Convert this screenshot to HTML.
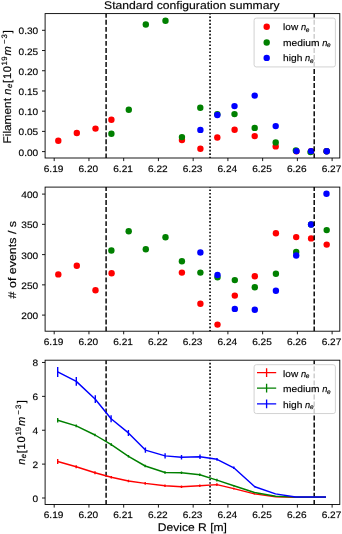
<!DOCTYPE html>
<html><head><meta charset="utf-8"><title>Standard configuration summary</title>
<style>html,body{margin:0;padding:0;background:#fff;width:342px;height:534px;overflow:hidden}svg{display:block;will-change:transform;filter:blur(0.3px)}text{font-family:"Liberation Sans",sans-serif;text-rendering:geometricPrecision;stroke:#000;stroke-width:0.3px;stroke-opacity:0.5}</style>
</head><body>
<svg width="342" height="534" viewBox="0 0 342 534">
<rect width="342" height="534" fill="#fff"/>
<g font-family="Liberation Sans, sans-serif">
<clipPath id="c0"><rect x="45.1" y="13.6" width="294.7" height="144.4"/></clipPath>
<clipPath id="c1"><rect x="45.1" y="187.1" width="294.7" height="144.1"/></clipPath>
<clipPath id="c2"><rect x="45.1" y="360.2" width="294.7" height="144.3"/></clipPath>
<g clip-path="url(#c0)">
<circle cx="58.3" cy="140.8" r="3.2" fill="#ff0000"/>
<circle cx="76.8" cy="133" r="3.2" fill="#ff0000"/>
<circle cx="95.5" cy="128.6" r="3.2" fill="#ff0000"/>
<circle cx="111.4" cy="119.7" r="3.2" fill="#ff0000"/>
<circle cx="181.95" cy="140.1" r="3.2" fill="#ff0000"/>
<circle cx="200.4" cy="148.8" r="3.2" fill="#ff0000"/>
<circle cx="217.3" cy="137.5" r="3.2" fill="#ff0000"/>
<circle cx="234.6" cy="129.8" r="3.2" fill="#ff0000"/>
<circle cx="254.7" cy="136.1" r="3.2" fill="#ff0000"/>
<circle cx="275.7" cy="146.4" r="3.2" fill="#ff0000"/>
<circle cx="296.4" cy="151.2" r="3.2" fill="#ff0000"/>
<circle cx="311.1" cy="151.3" r="3.2" fill="#ff0000"/>
<circle cx="326.6" cy="151.3" r="3.2" fill="#ff0000"/>
<circle cx="111.4" cy="133.8" r="3.2" fill="#008000"/>
<circle cx="128.8" cy="109.7" r="3.2" fill="#008000"/>
<circle cx="145.8" cy="24.5" r="3.2" fill="#008000"/>
<circle cx="165.5" cy="20.8" r="3.2" fill="#008000"/>
<circle cx="181.95" cy="137.1" r="3.2" fill="#008000"/>
<circle cx="200.3" cy="107.8" r="3.2" fill="#008000"/>
<circle cx="217.3" cy="114.2" r="3.2" fill="#008000"/>
<circle cx="234.5" cy="114.1" r="3.2" fill="#008000"/>
<circle cx="254.7" cy="127.9" r="3.2" fill="#008000"/>
<circle cx="275.7" cy="142.4" r="3.2" fill="#008000"/>
<circle cx="295.9" cy="150.5" r="3.2" fill="#008000"/>
<circle cx="310.5" cy="152.1" r="3.2" fill="#008000"/>
<circle cx="326.6" cy="151.3" r="3.2" fill="#008000"/>
<circle cx="200.4" cy="129.9" r="3.2" fill="#0000ff"/>
<circle cx="217.35" cy="114.95" r="3.2" fill="#0000ff"/>
<circle cx="234.5" cy="106.1" r="3.2" fill="#0000ff"/>
<circle cx="254.7" cy="95.6" r="3.2" fill="#0000ff"/>
<circle cx="275.7" cy="126.1" r="3.2" fill="#0000ff"/>
<circle cx="296.5" cy="151.1" r="3.2" fill="#0000ff"/>
<circle cx="311.1" cy="151.1" r="3.2" fill="#0000ff"/>
<circle cx="326.7" cy="151.3" r="3.2" fill="#0000ff"/>
<line x1="106.1" y1="158.3" x2="106.1" y2="13.6" stroke="#000" stroke-width="1.45" stroke-dasharray="4.906 2.122"/>
<line x1="210.05" y1="158.45" x2="210.05" y2="13.6" stroke="#000" stroke-width="1.6" stroke-dasharray="1.6 1.914"/>
<line x1="314.2" y1="158.3" x2="314.2" y2="13.6" stroke="#000" stroke-width="1.45" stroke-dasharray="4.906 2.122"/>
</g>
<g clip-path="url(#c1)">
<circle cx="58.3" cy="274.4" r="3.2" fill="#ff0000"/>
<circle cx="76.8" cy="265.7" r="3.2" fill="#ff0000"/>
<circle cx="95.5" cy="290.3" r="3.2" fill="#ff0000"/>
<circle cx="111.6" cy="273.2" r="3.2" fill="#ff0000"/>
<circle cx="181.9" cy="272.6" r="3.2" fill="#ff0000"/>
<circle cx="200.4" cy="303.8" r="3.2" fill="#ff0000"/>
<circle cx="217.5" cy="324.6" r="3.2" fill="#ff0000"/>
<circle cx="234.8" cy="295.6" r="3.2" fill="#ff0000"/>
<circle cx="254.8" cy="276.2" r="3.2" fill="#ff0000"/>
<circle cx="275.9" cy="233.2" r="3.2" fill="#ff0000"/>
<circle cx="296.2" cy="237.1" r="3.2" fill="#ff0000"/>
<circle cx="311.1" cy="238.4" r="3.2" fill="#ff0000"/>
<circle cx="326.7" cy="244.6" r="3.2" fill="#ff0000"/>
<circle cx="111.4" cy="250.5" r="3.2" fill="#008000"/>
<circle cx="128.7" cy="231.3" r="3.2" fill="#008000"/>
<circle cx="145.8" cy="249.3" r="3.2" fill="#008000"/>
<circle cx="165.5" cy="237.2" r="3.2" fill="#008000"/>
<circle cx="181.9" cy="261.2" r="3.2" fill="#008000"/>
<circle cx="200.4" cy="272.6" r="3.2" fill="#008000"/>
<circle cx="217.5" cy="277.3" r="3.2" fill="#008000"/>
<circle cx="234.8" cy="280.1" r="3.2" fill="#008000"/>
<circle cx="254.8" cy="287.3" r="3.2" fill="#008000"/>
<circle cx="275.9" cy="273.8" r="3.2" fill="#008000"/>
<circle cx="296.2" cy="252" r="3.2" fill="#008000"/>
<circle cx="311.1" cy="224.5" r="3.2" fill="#008000"/>
<circle cx="326.7" cy="230.1" r="3.2" fill="#008000"/>
<circle cx="200.4" cy="252.5" r="3.2" fill="#0000ff"/>
<circle cx="217.5" cy="275" r="3.2" fill="#0000ff"/>
<circle cx="234.8" cy="308.9" r="3.2" fill="#0000ff"/>
<circle cx="254.8" cy="309.8" r="3.2" fill="#0000ff"/>
<circle cx="275.9" cy="290.8" r="3.2" fill="#0000ff"/>
<circle cx="296.2" cy="255.5" r="3.2" fill="#0000ff"/>
<circle cx="311.1" cy="224.5" r="3.2" fill="#0000ff"/>
<circle cx="326.5" cy="193.7" r="3.2" fill="#0000ff"/>
<line x1="106.1" y1="331.5" x2="106.1" y2="187.1" stroke="#000" stroke-width="1.45" stroke-dasharray="4.906 2.122"/>
<line x1="210.05" y1="331.65" x2="210.05" y2="187.1" stroke="#000" stroke-width="1.6" stroke-dasharray="1.6 1.914"/>
<line x1="314.2" y1="331.5" x2="314.2" y2="187.1" stroke="#000" stroke-width="1.45" stroke-dasharray="4.906 2.122"/>
</g>
<g clip-path="url(#c2)">
<line x1="106.1" y1="504.8" x2="106.1" y2="360.2" stroke="#000" stroke-width="1.45" stroke-dasharray="4.906 2.122"/>
<line x1="210.05" y1="504.95" x2="210.05" y2="360.2" stroke="#000" stroke-width="1.6" stroke-dasharray="1.6 1.914"/>
<line x1="314.2" y1="504.8" x2="314.2" y2="360.2" stroke="#000" stroke-width="1.45" stroke-dasharray="4.906 2.122"/>
<path d="M57.7 461.5 L76.2 466.7 L95 472.7 L111.3 477.3 L128.5 481 L145.2 483.4 L165 485.8 L181.5 486.7 L199.8 485.7 L216.9 484.6 L233.8 488.6 L254.5 493.9 L275.6 496.7 L296 497.2 L311 497.2 L326 497.2" fill="none" stroke="#ff0000" stroke-width="1.45" stroke-linejoin="round" stroke-linecap="butt"/>
<path d="M57.7 459.1V463.9 M76.2 465.2V468.2 M95 471.2V474.2 M111.3 476.1V478.5 M128.5 479.7V482.3 M145.2 482.1V484.7 M165 484.5V487.1 M181.5 485.4V488 M199.8 484.4V487 M216.9 483.3V485.9 M233.8 487.8V489.4 M254.5 493.4V494.4" stroke="#ff0000" stroke-width="1.4" fill="none"/>
<path d="M57.7 420.2 L76.2 425.9 L95 435 L111.3 444.6 L128.5 456.3 L145.2 466 L165 472.5 L181.5 472.7 L199.8 474.8 L216.9 480.1 L233.8 485.8 L254.5 492.5 L275.6 496.2 L296 497.1 L311 497.1 L326 497.1" fill="none" stroke="#008000" stroke-width="1.45" stroke-linejoin="round" stroke-linecap="butt"/>
<path d="M57.7 418V422.4 M76.2 424.6V427.2 M95 433.7V436.3 M111.3 443.3V445.9 M128.5 455V457.6 M145.2 464.7V467.3 M165 471.2V473.8 M181.5 471.4V474 M199.8 473.5V476.1 M216.9 478.8V481.4 M233.8 485V486.6 M254.5 492V493" stroke="#008000" stroke-width="1.4" fill="none"/>
<path d="M57.7 371.9 L76.3 381.4 L95.3 399.2 L111.1 418.7 L128.4 432.9 L145.4 450.1 L165.1 455.9 L181.5 457.3 L200 456.8 L217 459.3 L233.8 467.8 L254.8 486.8 L275.5 493.9 L295.6 497 L311 497 L326 497" fill="none" stroke="#0000ff" stroke-width="1.45" stroke-linejoin="round" stroke-linecap="butt"/>
<path d="M57.7 366.9V376.9 M76.3 377V385.8 M95.3 395.3V403.1 M111.1 415.2V422.2 M128.4 429.9V435.9 M145.4 447.5V452.7 M165.1 453.2V458.6 M181.5 455V459.6 M200 454.5V459.1 M217 457.9V460.7 M233.8 466.5V469.1 M254.8 486.3V487.3" stroke="#0000ff" stroke-width="1.4" fill="none"/>
</g>
<rect x="45.1" y="13.6" width="294.7" height="144.4" fill="none" stroke="#000" stroke-width="0.9"/>
<path d="M54.2 158.0v3.1 M88.94 158.0v3.1 M123.68 158.0v3.1 M158.42 158.0v3.1 M193.16 158.0v3.1 M227.9 158.0v3.1 M262.64 158.0v3.1 M297.38 158.0v3.1 M332.12 158.0v3.1 M45.1 151.6h-3.1 M45.1 131.38h-3.1 M45.1 111.17h-3.1 M45.1 90.95h-3.1 M45.1 70.74h-3.1 M45.1 50.52h-3.1 M45.1 30.31h-3.1" stroke="#000" stroke-width="0.9" fill="none"/>
<text x="53.6" y="171.8" font-size="9.29" text-anchor="middle" textLength="19.69" lengthAdjust="spacingAndGlyphs">6.19</text>
<text x="88.34" y="171.8" font-size="9.29" text-anchor="middle" textLength="19.69" lengthAdjust="spacingAndGlyphs">6.20</text>
<text x="123.08" y="171.8" font-size="9.29" text-anchor="middle" textLength="19.69" lengthAdjust="spacingAndGlyphs">6.21</text>
<text x="157.82" y="171.8" font-size="9.29" text-anchor="middle" textLength="19.69" lengthAdjust="spacingAndGlyphs">6.22</text>
<text x="192.56" y="171.8" font-size="9.29" text-anchor="middle" textLength="19.69" lengthAdjust="spacingAndGlyphs">6.23</text>
<text x="227.3" y="171.8" font-size="9.29" text-anchor="middle" textLength="19.69" lengthAdjust="spacingAndGlyphs">6.24</text>
<text x="262.04" y="171.8" font-size="9.29" text-anchor="middle" textLength="19.69" lengthAdjust="spacingAndGlyphs">6.25</text>
<text x="296.78" y="171.8" font-size="9.29" text-anchor="middle" textLength="19.69" lengthAdjust="spacingAndGlyphs">6.26</text>
<text x="331.52" y="171.8" font-size="9.29" text-anchor="middle" textLength="19.69" lengthAdjust="spacingAndGlyphs">6.27</text>
<text x="38.21" y="155.6" font-size="9.29" text-anchor="end" textLength="19.69" lengthAdjust="spacingAndGlyphs">0.00</text>
<text x="38.21" y="135.38" font-size="9.29" text-anchor="end" textLength="19.69" lengthAdjust="spacingAndGlyphs">0.05</text>
<text x="38.21" y="115.17" font-size="9.29" text-anchor="end" textLength="19.69" lengthAdjust="spacingAndGlyphs">0.10</text>
<text x="38.21" y="94.95" font-size="9.29" text-anchor="end" textLength="19.69" lengthAdjust="spacingAndGlyphs">0.15</text>
<text x="38.21" y="74.74" font-size="9.29" text-anchor="end" textLength="19.69" lengthAdjust="spacingAndGlyphs">0.20</text>
<text x="38.21" y="54.52" font-size="9.29" text-anchor="end" textLength="19.69" lengthAdjust="spacingAndGlyphs">0.25</text>
<text x="38.21" y="34.31" font-size="9.29" text-anchor="end" textLength="19.69" lengthAdjust="spacingAndGlyphs">0.30</text>
<rect x="45.1" y="187.1" width="294.7" height="144.1" fill="none" stroke="#000" stroke-width="0.9"/>
<path d="M54.2 331.2v3.1 M88.94 331.2v3.1 M123.68 331.2v3.1 M158.42 331.2v3.1 M193.16 331.2v3.1 M227.9 331.2v3.1 M262.64 331.2v3.1 M297.38 331.2v3.1 M332.12 331.2v3.1 M45.1 315.1h-3.1 M45.1 284.85h-3.1 M45.1 254.6h-3.1 M45.1 224.35h-3.1 M45.1 194.1h-3.1" stroke="#000" stroke-width="0.9" fill="none"/>
<text x="53.6" y="344.5" font-size="9.29" text-anchor="middle" textLength="19.69" lengthAdjust="spacingAndGlyphs">6.19</text>
<text x="88.34" y="344.5" font-size="9.29" text-anchor="middle" textLength="19.69" lengthAdjust="spacingAndGlyphs">6.20</text>
<text x="123.08" y="344.5" font-size="9.29" text-anchor="middle" textLength="19.69" lengthAdjust="spacingAndGlyphs">6.21</text>
<text x="157.82" y="344.5" font-size="9.29" text-anchor="middle" textLength="19.69" lengthAdjust="spacingAndGlyphs">6.22</text>
<text x="192.56" y="344.5" font-size="9.29" text-anchor="middle" textLength="19.69" lengthAdjust="spacingAndGlyphs">6.23</text>
<text x="227.3" y="344.5" font-size="9.29" text-anchor="middle" textLength="19.69" lengthAdjust="spacingAndGlyphs">6.24</text>
<text x="262.04" y="344.5" font-size="9.29" text-anchor="middle" textLength="19.69" lengthAdjust="spacingAndGlyphs">6.25</text>
<text x="296.78" y="344.5" font-size="9.29" text-anchor="middle" textLength="19.69" lengthAdjust="spacingAndGlyphs">6.26</text>
<text x="331.52" y="344.5" font-size="9.29" text-anchor="middle" textLength="19.69" lengthAdjust="spacingAndGlyphs">6.27</text>
<text x="38.21" y="319.1" font-size="9.29" text-anchor="end" textLength="16.88" lengthAdjust="spacingAndGlyphs">200</text>
<text x="38.21" y="288.85" font-size="9.29" text-anchor="end" textLength="16.88" lengthAdjust="spacingAndGlyphs">250</text>
<text x="38.21" y="258.6" font-size="9.29" text-anchor="end" textLength="16.88" lengthAdjust="spacingAndGlyphs">300</text>
<text x="38.21" y="228.35" font-size="9.29" text-anchor="end" textLength="16.88" lengthAdjust="spacingAndGlyphs">350</text>
<text x="38.21" y="198.1" font-size="9.29" text-anchor="end" textLength="16.88" lengthAdjust="spacingAndGlyphs">400</text>
<rect x="45.1" y="360.2" width="294.7" height="144.3" fill="none" stroke="#000" stroke-width="0.9"/>
<path d="M54.2 504.5v3.1 M88.94 504.5v3.1 M123.68 504.5v3.1 M158.42 504.5v3.1 M193.16 504.5v3.1 M227.9 504.5v3.1 M262.64 504.5v3.1 M297.38 504.5v3.1 M332.12 504.5v3.1 M45.1 498h-3.1 M45.1 464.12h-3.1 M45.1 430.24h-3.1 M45.1 396.36h-3.1 M45.1 362.48h-3.1" stroke="#000" stroke-width="0.9" fill="none"/>
<text x="53.6" y="517.8" font-size="9.29" text-anchor="middle" textLength="19.69" lengthAdjust="spacingAndGlyphs">6.19</text>
<text x="88.34" y="517.8" font-size="9.29" text-anchor="middle" textLength="19.69" lengthAdjust="spacingAndGlyphs">6.20</text>
<text x="123.08" y="517.8" font-size="9.29" text-anchor="middle" textLength="19.69" lengthAdjust="spacingAndGlyphs">6.21</text>
<text x="157.82" y="517.8" font-size="9.29" text-anchor="middle" textLength="19.69" lengthAdjust="spacingAndGlyphs">6.22</text>
<text x="192.56" y="517.8" font-size="9.29" text-anchor="middle" textLength="19.69" lengthAdjust="spacingAndGlyphs">6.23</text>
<text x="227.3" y="517.8" font-size="9.29" text-anchor="middle" textLength="19.69" lengthAdjust="spacingAndGlyphs">6.24</text>
<text x="262.04" y="517.8" font-size="9.29" text-anchor="middle" textLength="19.69" lengthAdjust="spacingAndGlyphs">6.25</text>
<text x="296.78" y="517.8" font-size="9.29" text-anchor="middle" textLength="19.69" lengthAdjust="spacingAndGlyphs">6.26</text>
<text x="331.52" y="517.8" font-size="9.29" text-anchor="middle" textLength="19.69" lengthAdjust="spacingAndGlyphs">6.27</text>
<text x="38.21" y="502" font-size="9.29" text-anchor="end" textLength="5.63" lengthAdjust="spacingAndGlyphs">0</text>
<text x="38.21" y="468.12" font-size="9.29" text-anchor="end" textLength="5.63" lengthAdjust="spacingAndGlyphs">2</text>
<text x="38.21" y="434.24" font-size="9.29" text-anchor="end" textLength="5.63" lengthAdjust="spacingAndGlyphs">4</text>
<text x="38.21" y="400.36" font-size="9.29" text-anchor="end" textLength="5.63" lengthAdjust="spacingAndGlyphs">6</text>
<text x="38.21" y="366.48" font-size="9.29" text-anchor="end" textLength="5.63" lengthAdjust="spacingAndGlyphs">8</text>
<rect x="254.1" y="18.1" width="81.3" height="48.85" rx="2.2" fill="#fff" fill-opacity="0.8" stroke="#cccccc" stroke-width="0.88"/>
<circle cx="266.7" cy="26.8" r="3.2" fill="#ff0000"/>
<text x="283.1" y="30" font-size="9.29" text-anchor="start" textLength="15.1" lengthAdjust="spacingAndGlyphs">low</text>
<text x="300.92" y="30" font-size="9.29" font-style="italic">n</text>
<text x="305.73" y="31.65" font-size="6.5" font-style="italic">e</text>
<circle cx="266.7" cy="42.5" r="3.2" fill="#008000"/>
<text x="283.1" y="45.7" font-size="9.29" text-anchor="start" textLength="36.34" lengthAdjust="spacingAndGlyphs">medium</text>
<text x="322.16" y="45.7" font-size="9.29" font-style="italic">n</text>
<text x="326.97" y="47.35" font-size="6.5" font-style="italic">e</text>
<circle cx="266.7" cy="57.9" r="3.2" fill="#0000ff"/>
<text x="283.1" y="61.1" font-size="9.29" text-anchor="start" textLength="19.28" lengthAdjust="spacingAndGlyphs">high</text>
<text x="305.1" y="61.1" font-size="9.29" font-style="italic">n</text>
<text x="309.91" y="62.75" font-size="6.5" font-style="italic">e</text>
<rect x="254.1" y="364.7" width="81.3" height="48.85" rx="2.2" fill="#fff" fill-opacity="0.8" stroke="#cccccc" stroke-width="0.88"/>
<path d="M257 372.7H276.2M266.6 368.3V377.1" stroke="#ff0000" stroke-width="1.33" fill="none"/>
<text x="283.1" y="376.6" font-size="9.29" text-anchor="start" textLength="15.1" lengthAdjust="spacingAndGlyphs">low</text>
<text x="300.92" y="376.6" font-size="9.29" font-style="italic">n</text>
<text x="305.73" y="378.25" font-size="6.5" font-style="italic">e</text>
<path d="M257 388.2H276.2M266.6 383.8V392.6" stroke="#008000" stroke-width="1.33" fill="none"/>
<text x="283.1" y="392.3" font-size="9.29" text-anchor="start" textLength="36.34" lengthAdjust="spacingAndGlyphs">medium</text>
<text x="322.16" y="392.3" font-size="9.29" font-style="italic">n</text>
<text x="326.97" y="393.95" font-size="6.5" font-style="italic">e</text>
<path d="M257 403.9H276.2M266.6 399.5V408.3" stroke="#0000ff" stroke-width="1.33" fill="none"/>
<text x="283.1" y="407.7" font-size="9.29" text-anchor="start" textLength="19.28" lengthAdjust="spacingAndGlyphs">high</text>
<text x="305.1" y="407.7" font-size="9.29" font-style="italic">n</text>
<text x="309.91" y="409.35" font-size="6.5" font-style="italic">e</text>
<text x="191.8" y="8.8" font-size="11.14" text-anchor="middle" textLength="175.49" lengthAdjust="spacingAndGlyphs">Standard configuration summary</text>
<text x="192.4" y="531" font-size="11.14" text-anchor="middle" textLength="69.03" lengthAdjust="spacingAndGlyphs">Device R [m]</text>
<g transform="translate(10.7 143.5) rotate(-90)">
<text x="0" y="0" font-size="11.14" text-anchor="start" textLength="45.48" lengthAdjust="spacingAndGlyphs">Filament</text>
<text x="48.88" y="0" font-size="11.14" font-style="italic">n</text>
<text x="55.49" y="1.74" font-size="7.8" font-style="italic">e</text>
<text x="60.53" y="0" font-size="11.14">[</text>
<text x="64.57" y="0" font-size="11.14">1</text>
<text x="71.38" y="0" font-size="11.14">0</text>
<text x="77.91" y="-4.05" font-size="7.8">1</text>
<text x="82.85" y="-4.05" font-size="7.8">9</text>
<text x="88.02" y="0" font-size="11.14" font-style="italic">m</text>
<text x="99.57" y="-4.05" font-size="7.8">−</text>
<text x="104.96" y="-4.05" font-size="7.8">3</text>
<text x="110.21" y="0" font-size="11.14">]</text>
</g>
<g transform="translate(15.8 298.4) rotate(-90)">
<text x="0" y="0" font-size="11.14" text-anchor="start" textLength="77.47" lengthAdjust="spacingAndGlyphs"># of events / s</text>
</g>
<g transform="translate(24.6 465) rotate(-90)">
<text x="0.25" y="0" font-size="11.14" font-style="italic">n</text>
<text x="6.86" y="1.74" font-size="7.8" font-style="italic">e</text>
<text x="11.7" y="0" font-size="11.14">[</text>
<text x="15.54" y="0" font-size="11.14">1</text>
<text x="22.45" y="0" font-size="11.14">0</text>
<text x="29.48" y="-4.05" font-size="7.8">1</text>
<text x="33.82" y="-4.05" font-size="7.8">9</text>
<text x="39.09" y="0" font-size="11.14" font-style="italic">m</text>
<text x="50.24" y="-4.05" font-size="7.8">−</text>
<text x="55.93" y="-4.05" font-size="7.8">3</text>
<text x="61.68" y="0" font-size="11.14">]</text>
</g>
</g></svg>
</body></html>
